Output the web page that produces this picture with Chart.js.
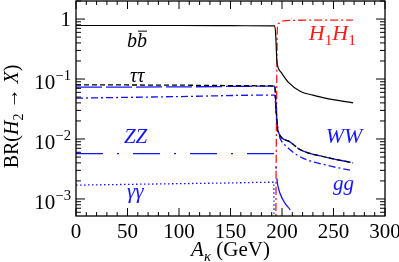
<!DOCTYPE html>
<html>
<head>
<meta charset="utf-8">
<script src="https://cdn.jsdelivr.net/npm/chart.js@4.4.0/dist/chart.umd.min.js"></script>
<style>
  html, body { margin: 0; padding: 0; background: #fff; }
  #wrap { width: 399px; height: 262px; }
</style>
</head>
<body>
<div id="wrap"><canvas id="brChart"></canvas></div>
<script>
// A_kappa (GeV) and BR(H2 -> X)
const bbX = [0, 50, 100, 150, 190, 193, 194, 195, 196, 199, 206, 218, 230, 242, 269];
const bbY = [0.78, 0.78, 0.78, 0.775, 0.77, 0.77, 0.5, 0.2, 0.16, 0.13, 0.089, 0.062, 0.054, 0.048, 0.04];

const tautauX = [0, 100, 190, 193, 194, 195.5, 196, 206, 218, 242, 269];
const tautauY = [0.08, 0.079, 0.077, 0.077, 0.04, 0.016, 0.0136, 0.0093, 0.0066, 0.005, 0.004];

const wwX = [0, 100, 190, 193, 194, 195.5, 196, 206, 218, 242, 269];
const wwY = [0.073, 0.074, 0.076, 0.076, 0.04, 0.016, 0.0136, 0.0093, 0.0066, 0.005, 0.004];

const ggX = [0, 100, 190, 193, 194, 197, 198, 206, 218, 242, 267];
const ggY = [0.048, 0.051, 0.054, 0.054, 0.03, 0.012, 0.0104, 0.0071, 0.005, 0.0037, 0.003];

const zzX = [0, 100, 190, 193, 195, 196, 201, 208];
const zzY = [0.0057, 0.0057, 0.0057, 0.0057, 0.0022, 0.00165, 0.00096, 0.00066];

const gamgamX = [0, 50, 100, 150, 190, 192, 192.5];
const gamgamY = [0.0017, 0.00175, 0.0018, 0.00185, 0.0019, 0.0019, 0.0001];

const h1h1X = [193.8, 194.5, 195.5, 197, 200, 210, 230, 269];
const h1h1Y = [0.0001, 0.01, 0.7, 0.85, 0.92, 0.95, 0.96, 0.96];

const xTickStep = 50;
const xMinorStep = 10;
const yDecades = [0.001, 0.01, 0.1, 1];
const yDecadeLabels = ['−3', '−2', '−1', ''];

const BLUE = '#1414ff';
const RED = '#ff1a1a';
const SERIF = '"Liberation Serif", "DejaVu Serif", serif';

function pts(xs, ys) {
    return xs.map((x, i) => ({ x: x, y: ys[i] }));
}

function line(ctx, x1, y1, x2, y2) {
    ctx.beginPath();
    ctx.moveTo(x1, y1);
    ctx.lineTo(x2, y2);
    ctx.stroke();
}

// draw a run of text pieces: {t, it, sub, sup}
function richWidth(ctx, parts, size) {
    let w = 0;
    parts.forEach(p => {
        const s = (p.sub || p.sup) ? size * 0.7 : size;
        ctx.font = (p.it ? 'italic ' : '') + s + 'px ' + SERIF;
        w += ctx.measureText(p.t).width;
    });
    return w;
}

function drawRich(ctx, parts, x, y, size) {
    parts.forEach(p => {
        const s = (p.sub || p.sup) ? size * 0.7 : size;
        ctx.font = (p.it ? 'italic ' : '') + s + 'px ' + SERIF;
        let dy = 0;
        if (p.sub) dy = size * 0.25;
        if (p.sup) dy = -size * 0.42;
        ctx.fillText(p.t, x, y + dy);
        x += ctx.measureText(p.t).width;
    });
    return x;
}

const decorPlugin = {
    id: 'decor',
    afterDatasetsDraw(chart) {
        const { ctx, chartArea: a, scales: { x, y } } = chart;
        ctx.save();
        ctx.strokeStyle = '#000';
        ctx.fillStyle = '#000';

        // frame
        ctx.lineWidth = 1.3;
        ctx.strokeRect(a.left, a.top, a.right - a.left, a.bottom - a.top);

        // inward ticks on all four sides
        ctx.lineWidth = 1;
        for (let v = x.min; v <= x.max; v += xMinorStep) {
            const px = x.getPixelForValue(v);
            const len = v % xTickStep === 0 ? 8 : 4;
            line(ctx, px, a.bottom, px, a.bottom - len);
            line(ctx, px, a.top, px, a.top + len);
        }
        yDecades.concat([10]).forEach(d => {
            for (let m = 1; m <= 9; m++) {
                const v = m * d / 10;
                if (v < y.min || v > y.max) continue;
                const py = y.getPixelForValue(v);
                const len = m === 1 ? 9 : 5;
                line(ctx, a.left, py, a.left + len, py);
                line(ctx, a.right, py, a.right - len, py);
            }
        });

        // y tick labels with superscripts
        ctx.textBaseline = 'alphabetic';
        ctx.textAlign = 'left';
        yDecades.forEach((d, i) => {
            const py = y.getPixelForValue(d);
            const parts = yDecadeLabels[i] ? [{ t: '10' }, { t: yDecadeLabels[i], sup: true }] : [{ t: '1' }];
            const w = richWidth(ctx, parts, 21);
            drawRich(ctx, parts, a.left - 5 - w, py + (yDecadeLabels[i] ? 10 : 7), 21);
        });

        // axis titles
        const xt = [{ t: 'A', it: true }, { t: 'κ', it: true, sub: true }, { t: ' (GeV)' }];
        const xw = richWidth(ctx, xt, 21);
        drawRich(ctx, xt, (a.left + a.right) / 2 - xw / 2, 256, 21);

        const yt = [{ t: 'BR(' }, { t: 'H', it: true }, { t: '2', sub: true }, { t: ' → ' }, { t: 'X', it: true }, { t: ')' }];
        const yw = richWidth(ctx, yt, 20);
        ctx.save();
        ctx.translate(18, (a.top + a.bottom) / 2 + 8);
        ctx.rotate(-Math.PI / 2);
        drawRich(ctx, yt, -yw / 2, 0, 20);
        ctx.restore();

        // curve labels
        const lab = (parts, vx, vy, color, size) => {
            ctx.fillStyle = color;
            drawRich(ctx, parts, x.getPixelForValue(vx), y.getPixelForValue(vy), size || 21);
        };
        lab([{ t: 'bb', it: true }], 49.5, 0.34, '#000', 20);
        // bar over the second b
        ctx.font = 'italic 20px ' + SERIF;
        const bw = ctx.measureText('b').width;
        const bx = x.getPixelForValue(49.5) + bw + 1;
        const by = y.getPixelForValue(0.34) - 16;
        ctx.lineWidth = 1;
        line(ctx, bx, by, bx + bw - 1, by);

        lab([{ t: 'ττ', it: true }], 52.4, 0.089, '#000', 20);
        lab([{ t: 'ZZ', it: true }], 46.5, 0.0086, BLUE);
        lab([{ t: 'γγ', it: true }], 49.5, 0.00104, BLUE);
        lab([{ t: 'H', it: true }, { t: '1', sub: true }, { t: 'H', it: true }, { t: '1', sub: true }], 226, 0.45, RED, 22);
        lab([{ t: 'WW', it: true }], 242.5, 0.0086, BLUE, 22);
        lab([{ t: 'gg', it: true }], 249.5, 0.0014, BLUE);

        ctx.restore();
    }
};

function series(xs, ys, color, dash, width) {
    return {
        data: pts(xs, ys),
        borderColor: color,
        borderWidth: width || 1.3,
        borderDash: dash,
        pointRadius: 0,
        fill: false,
        cubicInterpolationMode: 'monotone'
    };
}

const zzSet = series(zzX, zzY, BLUE, [27, 14, 2, 14]);
// after the threshold the ZZ piece is a single solid stroke
zzSet.segment = { borderDash: c => (c.p0.parsed.x >= 195 ? [] : [27, 14, 2, 14]) };

new Chart(document.getElementById('brChart'), {
    type: 'line',
    data: {
        datasets: [
            series(bbX, bbY, '#000', [], 1.2),
            series(tautauX, tautauY, '#000', [5, 3]),
            series(wwX, wwY, BLUE, [26, 4]),
            series(ggX, ggY, BLUE, [7, 3, 2, 3]),
            zzSet,
            series(gamgamX, gamgamY, BLUE, [1.5, 2.5]),
            series(h1h1X, h1h1Y, RED, [8, 3, 2, 3])
        ]
    },
    options: {
        responsive: true,
        maintainAspectRatio: false,
        animation: false,
        layout: { padding: { left: 0, right: 14, top: 1, bottom: 0 } },
        plugins: { legend: { display: false }, tooltip: { enabled: false } },
        scales: {
            x: {
                type: 'linear',
                min: 0,
                max: 300,
                grid: { display: false, drawTicks: false },
                border: { display: false },
                ticks: {
                    stepSize: xTickStep,
                    color: '#000',
                    padding: 4,
                    maxRotation: 0,
                    font: { family: SERIF, size: 21 }
                },
                afterFit(s) { s.height = 46; s.paddingLeft = 0; s.paddingRight = 0; }
            },
            y: {
                type: 'logarithmic',
                min: 5.2e-4,
                max: 2,
                grid: { display: false, drawTicks: false },
                border: { display: false },
                ticks: { display: false },
                afterFit(s) { s.width = 76; }
            }
        }
    },
    plugins: [decorPlugin]
});
</script>
</body>
</html>
